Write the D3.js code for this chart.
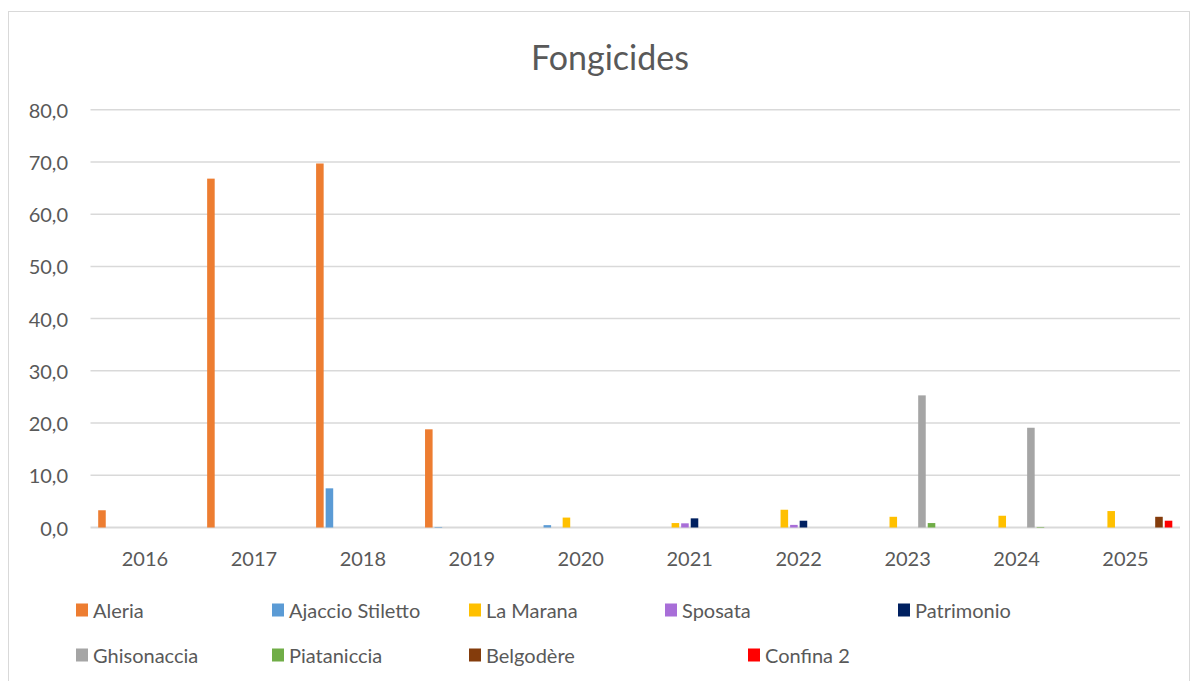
<!DOCTYPE html>
<html>
<head>
<meta charset="utf-8">
<script src="https://cdn.jsdelivr.net/npm/d3@7"></script>
<style>
  body { margin: 0; background: #fff; }
  text { font-family: Lato, "Liberation Sans", sans-serif; fill: #595959; }
</style>
</head>
<body>
<div id="chart"></div>
<script>
// categories and series
const years = ["2016", "2017", "2018", "2019", "2020", "2021", "2022", "2023", "2024", "2025"];
const seriesNames = ["Aleria", "Ajaccio Stiletto", "La Marana", "Sposata", "Patrimonio",
                     "Ghisonaccia", "Piataniccia", "Belgodère", "Confina 2"];
// the original chart keeps an empty slot after Ajaccio Stiletto (a series without legend entry)
const slotOrder = ["Aleria", "Ajaccio Stiletto", "_vide", "La Marana", "Sposata", "Patrimonio",
                   "Ghisonaccia", "Piataniccia", "Belgodère", "Confina 2"];
const colors = ["#ED7D31", "#5B9BD5", "#FFC000", "#A86ED8", "#002060",
                "#A5A5A5", "#70AD47", "#843C0C", "#FF0000"];

const aleria      = [3.3, 66.8, 69.7, 18.8, 0, 0, 0, 0, 0, 0];
const ajaccio     = [0, 0, 7.5, 0.1, 0.45, 0, 0, 0, 0, 0];
const laMarana    = [0, 0, 0, 0, 1.9, 0.85, 3.4, 2.05, 2.25, 3.15];
const sposata     = [0, 0, 0, 0, 0, 0.8, 0.5, 0, 0, 0];
const patrimonio  = [0, 0, 0, 0, 0, 1.75, 1.3, 0, 0, 0];
const ghisonaccia = [0, 0, 0, 0, 0, 0, 0, 25.3, 19.1, 0];
const piataniccia = [0, 0, 0, 0, 0, 0, 0, 0.85, 0.1, 0];
const belgodere   = [0, 0, 0, 0, 0, 0, 0, 0, 0, 2.05];
const confina2    = [0, 0, 0, 0, 0, 0, 0, 0, 0, 1.3];

const yTicks = [0, 10, 20, 30, 40, 50, 60, 70, 80];

const seriesValues = [aleria, ajaccio, laMarana, sposata, patrimonio,
                      ghisonaccia, piataniccia, belgodere, confina2];

// flat table for the bars
const rows = [];
seriesNames.forEach((name, si) => {
    years.forEach((yr, yi) => {
        rows.push({ series: name, year: yr, value: seriesValues[si][yi], color: colors[si] });
    });
});

const W = 1197, H = 681;
const margin = { top: 110, right: 17, bottom: 154, left: 90.5 };

const svg = d3.select("#chart")
    .append("svg")
    .attr("width", W)
    .attr("height", H)
    .attr("viewBox", [0, 0, W, H]);

// chart border
svg.append("rect")
    .attr("x", 8.5).attr("y", 11.5)
    .attr("width", 1181).attr("height", 680)
    .attr("fill", "none")
    .attr("stroke", "#d9d9d9");

svg.append("text")
    .attr("x", 610)
    .attr("y", 56)
    .attr("text-anchor", "middle")
    .attr("dominant-baseline", "central")
    .style("font-size", "34px")
    .text("Fongicides");

const x0 = d3.scaleBand()
    .domain(years)
    .range([margin.left, W - margin.right]);

const x1 = d3.scaleBand()
    .domain(slotOrder)
    .range([0, x0.bandwidth()])
    .paddingOuter(0.7)
    .paddingInner(0);

const y = d3.scaleLinear()
    .domain([0, 80])
    .range([527.5, 109.7]);

const fmt = d => d3.format(".1f")(d).replace(".", ",");

// grid lines
svg.append("g")
    .selectAll("line")
    .data(yTicks)
    .join("line")
    .attr("x1", margin.left)
    .attr("x2", W - margin.right)
    .attr("y1", d => y(d))
    .attr("y2", d => y(d))
    .attr("stroke", "#d9d9d9")
    .attr("stroke-width", d => d === 0 ? 2 : 1.5);

// y labels
svg.append("g")
    .selectAll("text")
    .data(yTicks)
    .join("text")
    .attr("x", 68)
    .attr("y", d => y(d))
    .attr("text-anchor", "end")
    .attr("dominant-baseline", "central")
    .style("font-size", "20px")
    .text(fmt);

// x labels
svg.append("g")
    .selectAll("text")
    .data(years)
    .join("text")
    .attr("x", d => x0(d) + x0.bandwidth() / 2)
    .attr("y", 558)
    .attr("text-anchor", "middle")
    .attr("dominant-baseline", "central")
    .style("font-size", "20px")
    .text(d => d);

// bars
svg.append("g")
    .selectAll("rect")
    .data(rows.filter(d => d.value > 0))
    .join("rect")
    .attr("x", d => x0(d.year) + x1(d.series) + 1)
    .attr("width", x1.bandwidth() - 2)
    .attr("y", d => y(d.value))
    .attr("height", d => y(0) - y(d.value))
    .attr("fill", d => d.color);

// legend
const legendPos = [[76, 610], [272, 610], [469, 610], [665, 610], [898, 610],
                   [76, 655], [272, 655], [469, 655], [748, 655]];
const legend = svg.append("g")
    .selectAll("g")
    .data(seriesNames)
    .join("g")
    .attr("transform", (d, i) => `translate(${legendPos[i][0]}, ${legendPos[i][1]})`);

legend.append("rect")
    .attr("x", 0).attr("y", -6.5)
    .attr("width", 12).attr("height", 13)
    .attr("fill", (d, i) => colors[i]);

legend.append("text")
    .attr("x", 17)
    .attr("y", 0)
    .attr("dominant-baseline", "central")
    .style("font-size", "20px")
    .text(d => d);
</script>
</body>
</html>
